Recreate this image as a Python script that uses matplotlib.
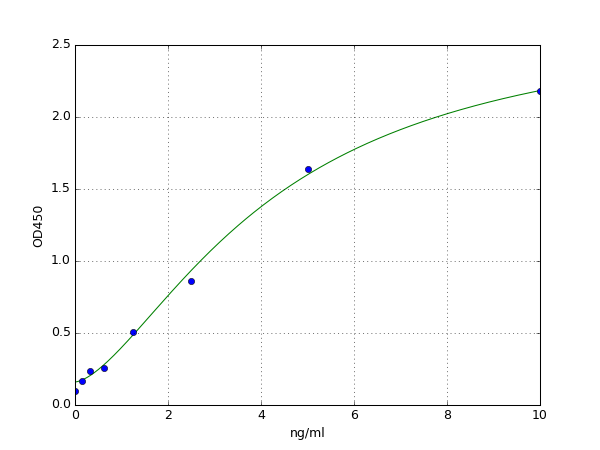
import numpy as np
import matplotlib
matplotlib.use("Agg")
import matplotlib.pyplot as plt

plt.style.use("classic")

conc = [0.0, 0.156, 0.3125, 0.625, 1.25, 2.5, 5.0, 10.0]
od = [0.10, 0.17, 0.235, 0.26, 0.51, 0.86, 1.64, 2.18]

# four-parameter logistic fit parameters
fit_a = 0.16
fit_b = 1.57
fit_c = 4.24
fit_d = 2.71

xs = np.linspace(0, 10, 300)
ys = fit_d + (fit_a - fit_d) / (1 + (xs / fit_c) ** fit_b)

fig = plt.figure(figsize=(8, 6), dpi=75)
ax = fig.add_subplot(111)
ax.plot(xs, ys, color="g", linewidth=1)
ax.plot(conc, od, "bo", markersize=6)
ax.set_xlim(0, 10)
ax.set_ylim(0, 2.5)
ax.set_xlabel("ng/ml")
ax.set_ylabel("OD450")
ax.grid(True)
fig.savefig("out.png", dpi=75, facecolor="white")
